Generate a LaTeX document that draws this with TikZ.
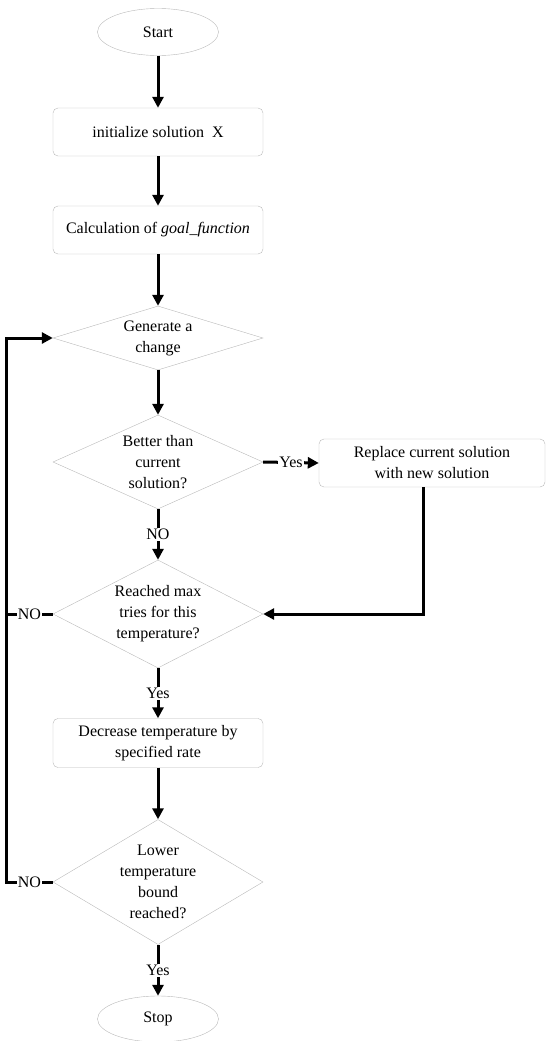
\documentclass[tikz,border=0pt]{standalone}
\usepackage{fontspec}
\setmainfont{Liberation Serif}
\usetikzlibrary{shapes,arrows,arrows.meta,calc}
\tikzset{
    term/.style={draw=gray!55, ellipse, inner sep=0pt, minimum width=121pt, minimum height=47pt, font=\fontsize{16}{21}\selectfont},
    proc/.style={draw=gray!55, rounded corners=5pt, inner sep=0pt, minimum width=210pt, minimum height=48pt, align=center, font=\fontsize{16}{21}\selectfont},
    dec/.style={draw=gray!55, diamond, inner sep=0pt, minimum width=210pt},
    txt/.style={align=center, inner sep=0pt, font=\fontsize{16}{21}\selectfont},
    lab/.style={fill=white, inner sep=1pt, font=\fontsize{16}{21}\selectfont},
    flow/.style={line width=3pt, -{Triangle[length=11pt,width=11pt]}},
    wire/.style={line width=3pt}}

\begin{document}
\begin{tikzpicture}[x=1pt,y=1pt]
\useasboundingbox (0,0) rectangle (547,-1041);
\node[term] (e1) at (158,-32) {Start};
\node[proc] (b1) at (158,-132) {initialize solution\ \ X};
\node[proc] (b2) at (158,-230) {Calculation of \textit{goal\_function}};
\node[dec, minimum height=64pt] (d1) at (158,-338) {};
\node[txt] (t1) at (d1) {Generate a\\change};
\node[dec, minimum height=94pt] (d2) at (158,-462) {};
\node[txt] (t2) at (d2) {Better than\\current\\solution?};
\node[proc, minimum width=226pt] (b3) at (432,-463) {Replace current solution\\with new solution};
\node[dec, minimum height=108pt] (d3) at (158,-614) {};
\node[txt] (t3) at (d3) {Reached max\\tries for this\\temperature?};
\node[proc, minimum height=49pt] (b4) at (158,-743) {Decrease temperature by\\specified rate};
\node[dec, minimum height=125pt] (d4) at (158,-882) {};
\node[txt] (t4) at (d4) {Lower\\temperature\\bound\\reached?};
\node[term, minimum height=46pt] (e2) at (158,-1019) {Stop};

\coordinate (c1) at (6,0);
\coordinate (c2) at ($(b3.south)+(-9,0)$);

\draw[flow] (e1) -- (b1);
\draw[flow] (b1) -- (b2);
\draw[flow] (b2) -- (d1);
\draw[flow] (d1) -- (d2);
\draw[flow] (d2.east) -- node[lab] {Yes} (b3.west);
\draw[flow] (d2.south) -- node[lab] {NO} (d3.north);
\draw[flow] (c2) |- (d3.east);
\draw[flow] (d3.south) -- node[lab] {Yes} (b4.north);
\draw[flow] (b4) -- (d4);
\draw[flow] (d4.south) -- node[lab] {Yes} (e2.north);
\draw[wire] (d3.west) -- node[lab] {NO} (d3.west -| c1);
\draw[flow] (d4.west) -- node[lab] {NO} (d4.west -| c1) |- (d1.west);
\end{tikzpicture}
\end{document}
